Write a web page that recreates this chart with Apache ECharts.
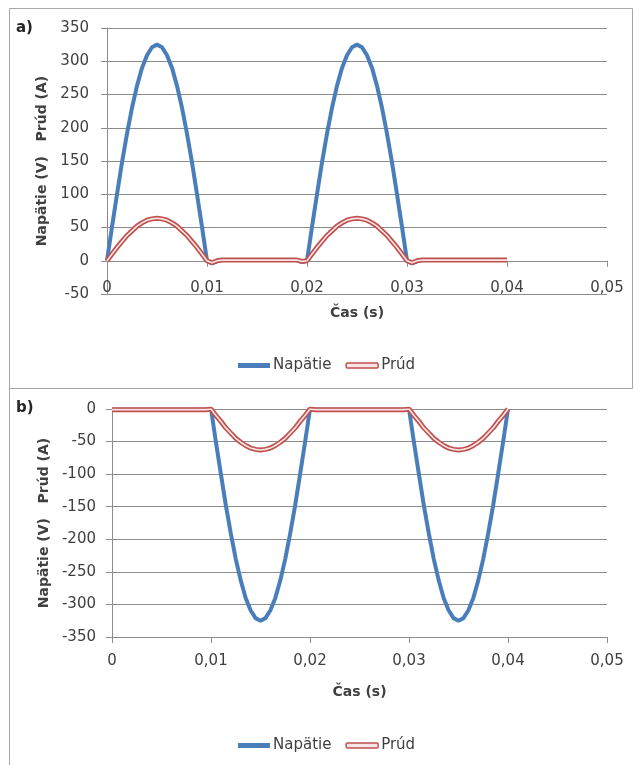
<!DOCTYPE html>
<html>
<head>
<meta charset="utf-8">
<script src="https://cdn.jsdelivr.net/npm/echarts@6/dist/echarts.min.js"></script>
<style>
  html, body { margin: 0; padding: 0; background: #fff; }
  #chart { width: 635px; height: 765px; }
</style>
</head>
<body>
<div id="chart"></div>
<script>
// time axis (s), step 0.0005
const time = [
  0, 0.0005, 0.001, 0.0015, 0.002, 0.0025, 0.003, 0.0035, 0.004, 0.0045,
  0.005, 0.0055, 0.006, 0.0065, 0.007, 0.0075, 0.008, 0.0085, 0.009, 0.0095,
  0.01, 0.0105, 0.011, 0.0115, 0.012, 0.0125, 0.013, 0.0135, 0.014, 0.0145,
  0.015, 0.0155, 0.016, 0.0165, 0.017, 0.0175, 0.018, 0.0185, 0.019, 0.0195,
  0.02, 0.0205, 0.021, 0.0215, 0.022, 0.0225, 0.023, 0.0235, 0.024, 0.0245,
  0.025, 0.0255, 0.026, 0.0265, 0.027, 0.0275, 0.028, 0.0285, 0.029, 0.0295,
  0.03, 0.0305, 0.031, 0.0315, 0.032, 0.0325, 0.033, 0.0335, 0.034, 0.0345,
  0.035, 0.0355, 0.036, 0.0365, 0.037, 0.0375, 0.038, 0.0385, 0.039, 0.0395,
  0.04
]

// a) Napätie (V)
const voltA = [
  0, 51, 100, 148, 191, 230, 263, 290, 309, 321,
  325, 321, 309, 290, 263, 230, 191, 148, 100, 51,
  0, -4, -1, 1, 1, 1, 1, 1, 1, 1,
  1, 1, 1, 1, 1, 1, 1, 1, 1, -2,
  0, 51, 100, 148, 191, 230, 263, 290, 309, 321,
  325, 321, 309, 290, 263, 230, 191, 148, 100, 51,
  0, -4, -1, 1, 1, 1, 1, 1, 1, 1,
  1, 1, 1, 1, 1, 1, 1, 1, 1, 1,
  1
]
// a) Prúd (A)
const curA = [
  0, 10, 20, 29, 38, 45, 52, 57, 61, 63,
  64, 63, 61, 57, 52, 45, 38, 29, 20, 10,
  0, -3, 0, 1, 1, 1, 1, 1, 1, 1,
  1, 1, 1, 1, 1, 1, 1, 1, 1, -1,
  0, 10, 20, 29, 38, 45, 52, 57, 61, 63,
  64, 63, 61, 57, 52, 45, 38, 29, 20, 10,
  0, -3, 0, 1, 1, 1, 1, 1, 1, 1,
  1, 1, 1, 1, 1, 1, 1, 1, 1, 1,
  1
]
// b) Napätie (V)
const voltB = [
  -1, -1, -1, -1, -1, -1, -1, -1, -1, -1,
  -1, -1, -1, -1, -1, -1, -1, -1, -1, -1,
  0, -51, -100, -148, -191, -230, -263, -290, -309, -321,
  -325, -321, -309, -290, -263, -230, -191, -148, -100, -51,
  0, -1, -1, -1, -1, -1, -1, -1, -1, -1,
  -1, -1, -1, -1, -1, -1, -1, -1, -1, -1,
  0, -51, -100, -148, -191, -230, -263, -290, -309, -321,
  -325, -321, -309, -290, -263, -230, -191, -148, -100, -51,
  0
]
// b) Prúd (A)
const curB = [
  -1, -1, -1, -1, -1, -1, -1, -1, -1, -1,
  -1, -1, -1, -1, -1, -1, -1, -1, -1, -1,
  0, -10, -19, -29, -37, -45, -51, -56, -60, -62,
  -63, -62, -60, -56, -51, -45, -37, -29, -19, -10,
  0, -1, -1, -1, -1, -1, -1, -1, -1, -1,
  -1, -1, -1, -1, -1, -1, -1, -1, -1, -1,
  0, -10, -19, -29, -37, -45, -51, -56, -60, -62,
  -63, -62, -60, -56, -51, -45, -37, -29, -19, -10,
  0
]

const xTicks = [0, 0.01, 0.02, 0.03, 0.04, 0.05]
const yTicksA = [-50, 350, 50]   // min, max, interval
const yTicksB = [-350, 0, 50]
const legendNames = ['Napätie', 'Prúd']
const yName = 'Napätie (V)   Prúd (A)'
const xName = 'Čas (s)'

const FONT = 'DejaVu Sans'
const TXT = '#404040'
const GRID = '#8c8c8c'
const BLUE = '#4a7ebb'
const RED = '#c0504d'
const PINK = '#f8e6e6'

const pairs = (vals) => time.map((t, i) => [t, vals[i]])

// chart a) has its horizontal axis on the zero line, one 50-step above the grid bottom
const GRID_A = { left: 107, right: 28, top: 28, bottom: 471 }
const zeroOffsetA = -(765 - GRID_A.top - GRID_A.bottom) * (0 - yTicksA[0]) / (yTicksA[1] - yTicksA[0])

function xAxis(gridIndex, offset, margin, nameGap) {
  return {
    type: 'value', gridIndex, offset,
    min: xTicks[0], max: xTicks[xTicks.length - 1], interval: xTicks[1] - xTicks[0],
    axisLine: { onZero: false, lineStyle: { color: GRID, width: 1 } },
    axisTick: { show: true, length: 6, lineStyle: { color: GRID } },
    splitLine: { show: false },
    axisLabel: {
      color: TXT, fontFamily: FONT, fontSize: 15, margin,
      formatter: (v) => String(+v.toFixed(2)).replace('.', ','),
    },
    name: xName, nameLocation: 'middle', nameGap,
    nameTextStyle: { color: TXT, fontFamily: FONT, fontSize: 14, fontWeight: 'bold' },
  }
}

function yAxis(gridIndex, ticks, margin, nameGap) {
  return {
    type: 'value', gridIndex,
    min: ticks[0], max: ticks[1], interval: ticks[2],
    axisLine: { show: true, onZero: false, lineStyle: { color: GRID, width: 1 } },
    axisTick: { show: true, length: 6, lineStyle: { color: GRID } },
    splitLine: { show: true, lineStyle: { color: GRID, width: 1 } },
    axisLabel: { color: TXT, fontFamily: FONT, fontSize: 15, margin },
    name: yName, nameLocation: 'middle', nameGap, nameRotate: 90,
    nameTextStyle: { color: TXT, fontFamily: FONT, fontSize: 14, fontWeight: 'bold' },
  }
}

function legend(top) {
  return {
    left: 233, top, itemWidth: 32, itemHeight: 5, itemGap: 14,
    textStyle: { color: TXT, fontFamily: FONT, fontSize: 15, padding: [0, 0, 0, -2] },
    data: [
      { name: legendNames[0], icon: 'rect', itemStyle: { color: BLUE } },
      { name: legendNames[1], icon: 'roundRect', itemStyle: { color: PINK, borderColor: RED, borderWidth: 1.5 } },
    ],
  }
}

function seriesFor(idx, volt, cur) {
  return [
    {
      name: legendNames[0], type: 'line', xAxisIndex: idx, yAxisIndex: idx,
      data: pairs(volt), showSymbol: false, symbol: 'none',
      lineStyle: { color: BLUE, width: 4 }, itemStyle: { color: BLUE },
    },
    {
      name: legendNames[1], type: 'line', xAxisIndex: idx, yAxisIndex: idx,
      data: pairs(cur), showSymbol: false, symbol: 'none',
      lineStyle: { color: RED, width: 5 }, itemStyle: { color: RED },
    },
    {
      name: 'Prúd-inner', type: 'line', xAxisIndex: idx, yAxisIndex: idx,
      data: pairs(cur), showSymbol: false, symbol: 'none', silent: true,
      lineStyle: { color: PINK, width: 1.6 },
    },
  ]
}

const chart = echarts.init(document.getElementById('chart'), null, { renderer: 'canvas' })
chart.setOption({
  animation: false,
  backgroundColor: '#fff',
  grid: [
    GRID_A,
    { left: 112, right: 28, top: 409, bottom: 128 },
  ],
  xAxis: [xAxis(0, zeroOffsetA, 20, 46), xAxis(1, 0, 17, 48)],
  yAxis: [yAxis(0, yTicksA, 18, 54), yAxis(1, yTicksB, 16, 61)],
  legend: [legend(353), legend(733)],
  series: [...seriesFor(0, voltA, curA), ...seriesFor(1, voltB, curB)],
  graphic: [
    { type: 'rect', shape: { x: 9.5, y: 8.5, width: 623, height: 380 }, style: { fill: 'none', stroke: '#a6a6a6', lineWidth: 1 } },
    { type: 'line', shape: { x1: 9.5, y1: 388, x2: 9.5, y2: 765 }, style: { stroke: '#a6a6a6', lineWidth: 1 } },
    { type: 'text', left: 16, top: 21, style: { text: 'a)', font: 'bold 15px "DejaVu Sans"', fill: '#262626' } },
    { type: 'text', left: 16, top: 401, style: { text: 'b)', font: 'bold 15px "DejaVu Sans"', fill: '#262626' } },
  ],
})
</script>
</body>
</html>
